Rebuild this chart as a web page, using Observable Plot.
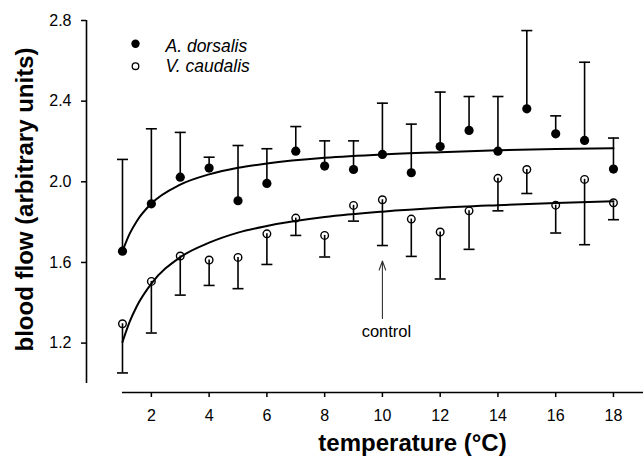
<!DOCTYPE html>
<html>
<head>
<meta charset="utf-8">
<script src="https://cdn.jsdelivr.net/npm/d3@7"></script>
<script src="https://cdn.jsdelivr.net/npm/@observablehq/plot@0.6"></script>
<style>
  html, body { margin: 0; padding: 0; background: #fff; }
</style>
</head>
<body>
<script>
// ---- data ----
const temps = [1, 2, 3, 4, 5, 6, 7, 8, 9, 10, 11, 12, 13, 14, 15, 16, 17, 18];
const dorsalisMean  = [1.656, 1.891, 2.023, 2.068, 1.906, 1.992, 2.152, 2.078, 2.061, 2.136, 2.045, 2.175, 2.255, 2.152, 2.362, 2.238, 2.205, 2.063];
const dorsalisUpper = [2.111, 2.263, 2.245, 2.122, 2.180, 2.164, 2.274, 2.203, 2.203, 2.390, 2.286, 2.445, 2.423, 2.423, 2.750, 2.327, 2.593, 2.217];
const caudalisMean  = [1.296, 1.506, 1.632, 1.612, 1.625, 1.742, 1.820, 1.734, 1.883, 1.911, 1.815, 1.751, 1.856, 2.017, 2.061, 1.884, 2.012, 1.896];
const caudalisLower = [1.052, 1.250, 1.438, 1.486, 1.470, 1.590, 1.734, 1.627, 1.805, 1.684, 1.630, 1.518, 1.665, 1.856, 1.942, 1.746, 1.688, 1.812];

// fitted curves
const fitT = [1, 1.25, 1.5, 2, 3, 4, 5, 6, 8, 10, 12, 14, 16, 18];
const fitDorsalis = [1.656, 1.743, 1.806, 1.892, 1.986, 2.037, 2.070, 2.091, 2.119, 2.136, 2.147, 2.156, 2.163, 2.167];
const fitCaudalis = [1.205, 1.306, 1.384, 1.495, 1.626, 1.698, 1.748, 1.781, 1.825, 1.852, 1.871, 1.884, 1.895, 1.903];

const xTicks = [2, 4, 6, 8, 10, 12, 14, 16, 18];
const yTicks = [1.2, 1.6, 2.0, 2.4, 2.8];
const legendLabels = ["A. dorsalis", "V. caudalis"];
const xTitle = "temperature (°C)";
const yTitle = "blood flow (arbitrary units)";
const controlLabel = ["control"];
const controlX = [10];
const controlArrowFrom = [1.322];
const controlArrowTo = [1.607];
const controlLabelY = [1.256];

// ---- tables ----
const dorsalis = temps.map((t, i) => ({t, v: dorsalisMean[i], e: dorsalisUpper[i]}));
const caudalis = temps.map((t, i) => ({t, v: caudalisMean[i], e: caudalisLower[i]}));
const curveA = fitT.map((t, i) => ({t, v: fitDorsalis[i]}));
const curveB = fitT.map((t, i) => ({t, v: fitCaudalis[i]}));
const control = controlX.map((x, i) => ({x, y1: controlArrowFrom[i], y2: controlArrowTo[i], ly: controlLabelY[i], label: controlLabel[i]}));

// horizontal cap symbol for error bars
const capSymbol = {
  draw(context) {
    context.moveTo(-5.5, 0);
    context.lineTo(5.5, 0);
  }
};

const xDomain = [-0.246, 19.04];
const yDomain = [0.955, 2.8];

const chart = Plot.plot({
  width: 643,
  height: 458,
  marginLeft: 86,
  marginRight: 0,
  marginTop: 20,
  marginBottom: 66,
  style: {fontFamily: "'Liberation Sans', Arial, sans-serif", fontSize: "16px", color: "#000", background: "#fff"},
  x: {domain: xDomain, label: null},
  y: {domain: yDomain, label: null},
  marks: [
    // axes
    Plot.ruleX([xDomain[0]], {y1: 1.0, y2: 2.8, stroke: "#000", strokeWidth: 1.6}),
    Plot.axisY({ticks: yTicks, tickSize: 5, tickPadding: 10, tickFormat: d3.format(".1f"), fontSize: 16, strokeWidth: 1.5, label: null}),
    Plot.ruleY([yDomain[0]], {x1: 1, x2: xDomain[1], stroke: "#000", strokeWidth: 1.6}),
    Plot.axisX({ticks: xTicks, tickSize: 5, tickPadding: 12, fontSize: 16, strokeWidth: 1.5, label: null}),
    // axis titles
    Plot.text([yTitle], {frameAnchor: "left", dx: -61, dy: -7, rotate: -90, textAnchor: "middle", lineAnchor: "middle", fontSize: 24, fontWeight: "bold", fill: "#000"}),
    Plot.text([xTitle], {frameAnchor: "bottom", dx: 47.5, dy: 51, textAnchor: "middle", lineAnchor: "middle", fontSize: 24, fontWeight: "bold", fill: "#000"}),
    // error bars
    Plot.ruleX(dorsalis, {x: "t", y1: "v", y2: "e", stroke: "#000", strokeWidth: 1.6}),
    Plot.dot(dorsalis, {x: "t", y: "e", symbol: capSymbol, stroke: "#000", strokeWidth: 1.6}),
    Plot.ruleX(caudalis, {x: "t", y1: "v", y2: "e", stroke: "#000", strokeWidth: 1.6}),
    Plot.dot(caudalis, {x: "t", y: "e", symbol: capSymbol, stroke: "#000", strokeWidth: 1.6}),
    // fitted curves
    Plot.line(curveA, {x: "t", y: "v", curve: "monotone-x", stroke: "#000", strokeWidth: 2}),
    Plot.line(curveB, {x: "t", y: "v", curve: "monotone-x", stroke: "#000", strokeWidth: 2}),
    // points
    Plot.dot(dorsalis, {x: "t", y: "v", r: 4.6, fill: "#000", stroke: "none"}),
    Plot.dot(caudalis, {x: "t", y: "v", r: 3.8, fill: "none", stroke: "#000", strokeWidth: 1.4}),
    // control annotation
    Plot.arrow(control, {x1: "x", x2: "x", y1: "y1", y2: "y2", stroke: "#333", strokeWidth: 1.1, headLength: 13, headAngle: 40}),
    Plot.text(control, {x: "x", y: "ly", text: "label", dx: 4, fontSize: 16.5, fill: "#000"}),
    // legend
    Plot.dot([legendLabels[0]], {frameAnchor: "top-left", dx: 49, dy: 23.3, r: 4.2, fill: "#000", stroke: "none"}),
    Plot.dot([legendLabels[1]], {frameAnchor: "top-left", dx: 49, dy: 45.7, r: 3.3, fill: "none", stroke: "#000", strokeWidth: 1.3}),
    Plot.text([legendLabels[0]], {frameAnchor: "top-left", dx: 79, dy: 26, text: d => d, textAnchor: "start", lineAnchor: "middle", fontSize: 17.5, fontStyle: "italic", fill: "#000"}),
    Plot.text([legendLabels[1]], {frameAnchor: "top-left", dx: 79, dy: 46, text: d => d, textAnchor: "start", lineAnchor: "middle", fontSize: 17.5, fontStyle: "italic", fill: "#000"})
  ]
});
document.body.appendChild(chart);
</script>
</body>
</html>
